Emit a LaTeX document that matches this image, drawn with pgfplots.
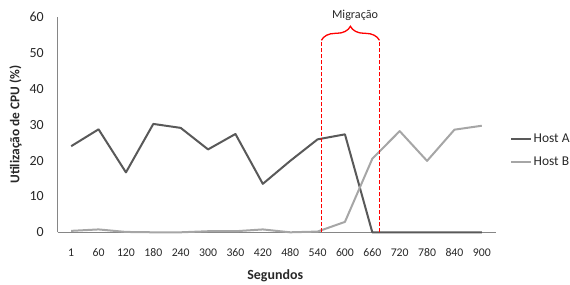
\documentclass[border=0pt]{standalone}
\usepackage{pgfplots}
\pgfplotsset{compat=1.18}
\usepackage{fontspec}
\setmainfont{Carlito}
\usetikzlibrary{decorations.pathreplacing}
\definecolor{hosta}{RGB}{89,89,89}
\definecolor{hostb}{RGB}{166,166,166}
\definecolor{axisgray}{RGB}{134,134,134}
\definecolor{txt}{RGB}{40,40,40}
\definecolor{migred}{RGB}{255,0,0}
\begin{document}
\begin{tikzpicture}
\useasboundingbox (0,0) rectangle (570bp,285bp);
\begin{axis}[
  at={(57.5bp,52.7bp)}, anchor=south west,
  scale only axis, width=438bp, height=215.3bp,
  xmin=-0.5, xmax=15.5, ymin=0, ymax=60,
  ytick={0,10,20,30,40,50,60},
  xtick={0,...,15},
  xticklabels={1,60,120,180,240,300,360,420,480,540,600,660,720,780,840,900},
  axis x line*=bottom, axis y line*=left,
  axis line style={draw=axisgray, line width=0.8bp, -},
  major tick length=0pt,
  /pgf/number format/assume math mode=true,
  yticklabel style={anchor=east, inner sep=0pt, xshift=-13.5bp, font=\fontsize{14}{14}\selectfont, text=txt},
  xticklabel style={anchor=north, inner sep=0pt, yshift=-16bp, font=\fontsize{11.8}{11.8}\selectfont, text=txt},
  ylabel={\textbf{Utilização de CPU (\%)}},
  ylabel style={at={(axis description cs:-0.096,0.5)}, anchor=center, font=\fontsize{13.4}{13.4}\selectfont, text=txt},
  xlabel={\textbf{Segundos}},
  xlabel style={at={(axis description cs:0.497,-0.203)}, anchor=center, font=\fontsize{14}{14}\selectfont, text=txt},
  clip=false,
  legend cell align=left,
  legend style={at={(axis description cs:1.033,0.38)}, anchor=west, draw=none, fill=none,
    inner sep=0pt, row sep=9bp, font=\fontsize{13.5}{13.5}\selectfont, text=txt,
    nodes={inner sep=1.5bp}},
  legend image code/.code={\draw[#1] (0bp,0bp) -- (20bp,0bp);},
]
\addplot[hosta, line width=2bp, line join=round] coordinates {
(0,24.0) (1,28.7) (2,16.7) (3,30.2) (4,29.1) (5,23.1) (6,27.4) (7,13.5)
(8,19.9) (9,25.9) (10,27.3) (11,0) (12,0) (13,0) (14,0) (15,0)};
\addlegendentry{Host A}
\addplot[hostb, line width=2bp, line join=round] coordinates {
(0,0.4) (1,0.8) (2,0.1) (3,0) (4,0) (5,0.3) (6,0.3) (7,0.8)
(8,0) (9,0.2) (10,2.9) (11,20.5) (12,28.2) (13,19.9) (14,28.6) (15,29.7)};
\addlegendentry{Host B}
\draw[draw=migred, line width=1.5bp, dash pattern=on 4bp off 2bp] (axis cs:9.14,0) -- (axis cs:9.14,53.5);
\draw[draw=migred, line width=1.5bp, dash pattern=on 4bp off 2bp] (axis cs:11.26,0) -- (axis cs:11.26,53.5);
\draw[draw=migred, line width=1.3bp, decorate, decoration={brace, amplitude=14bp}] (axis cs:9.14,53.5) -- (axis cs:11.26,53.5);
\node[text=txt, font=\fontsize{12.2}{12.2}\selectfont] at (axis cs:10.37,60.56) {Migração};
\end{axis}
\end{tikzpicture}
\end{document}
